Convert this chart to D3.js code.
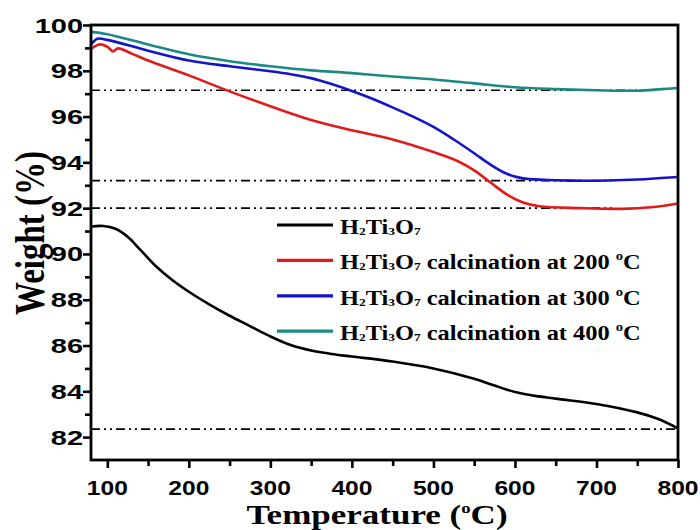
<!DOCTYPE html>
<html>
<head>
<meta charset="utf-8">
<script src="https://cdn.jsdelivr.net/npm/d3@7"></script>
<style>
  body { margin: 0; background: #fff; }
  svg { display: block; }
</style>
</head>
<body>
<svg id="chart" width="700" height="530"></svg>
<script>
// temperature (C) / weight (%)
var tRaw = [80, 95, 110, 125, 140, 160, 180, 200, 225, 250, 275, 300, 325, 350, 375, 400, 450, 500, 550, 575, 600, 625, 650, 700, 750, 775, 800];
var wRaw = [91.2, 91.22, 91.1, 90.75, 90.2, 89.45, 88.85, 88.35, 87.8, 87.3, 86.85, 86.4, 86.02, 85.78, 85.63, 85.52, 85.3, 85.0, 84.55, 84.25, 83.97, 83.8, 83.68, 83.45, 83.08, 82.8, 82.38];

var t200 = [80, 90, 100, 107, 113, 130, 150, 200, 250, 300, 350, 400, 450, 500, 530, 550, 570, 590, 610, 630, 680, 730, 770, 800];
var w200 = [98.95, 99.15, 99.05, 98.85, 98.98, 98.75, 98.45, 97.8, 97.1, 96.45, 95.85, 95.4, 95.0, 94.45, 94.05, 93.65, 93.12, 92.6, 92.25, 92.08, 92.0, 91.97, 92.05, 92.2];

var t300 = [80, 88, 100, 150, 200, 250, 300, 325, 350, 375, 400, 425, 450, 475, 500, 525, 550, 570, 590, 610, 650, 700, 750, 800];
var w300 = [99.15, 99.4, 99.35, 98.88, 98.45, 98.2, 97.98, 97.85, 97.68, 97.42, 97.12, 96.78, 96.4, 96.0, 95.55, 95.0, 94.4, 93.9, 93.5, 93.3, 93.22, 93.2, 93.25, 93.36];

var t400 = [80, 100, 150, 200, 250, 300, 350, 400, 450, 500, 550, 600, 650, 700, 750, 780, 800];
var w400 = [99.7, 99.6, 99.15, 98.72, 98.42, 98.2, 98.02, 97.9, 97.75, 97.62, 97.45, 97.28, 97.2, 97.15, 97.13, 97.2, 97.25];

// dash-dot reference levels and where they stop
var refLevels = [97.15, 93.2, 92.0, 82.35];
var refEnds = [770, 720, 720, 800];

var xTicks = [100, 200, 300, 400, 500, 600, 700, 800];
var yTicks = [82, 84, 86, 88, 90, 92, 94, 96, 98, 100];

var names = ["", " calcination at 200 ", " calcination at 300 ", " calcination at 400 "];
var colors = ["#000000", "#e01b1b", "#1414c8", "#1a8a86"];

var series = [
  { t: tRaw, w: wRaw },
  { t: t200, w: w200 },
  { t: t300, w: w300 },
  { t: t400, w: w400 }
];

var pL = 91, pT = 25, pR = 678, pB = 460;

var svg = d3.select("#chart");

var x = d3.scaleLinear().domain([80, 800]).range([pL, pR]);
var y = d3.scaleLinear().domain([81, 100]).range([pB, pT]);

// reference lines
svg.selectAll(".ref")
    .data(refLevels)
  .enter().append("line")
    .attr("class", "ref")
    .attr("x1", x(80))
    .attr("x2", function(d, i) { return x(refEnds[i]); })
    .attr("y1", function(d) { return y(d); })
    .attr("y2", function(d) { return y(d); })
    .attr("stroke", "#000")
    .attr("stroke-width", 1.7)
    .attr("stroke-dasharray", "9,4,2,4,2,4");

// curves
var line = d3.line()
    .x(function(d) { return x(d[0]); })
    .y(function(d) { return y(d[1]); })
    .curve(d3.curveCatmullRom.alpha(0.5));

series.forEach(function(s, i) {
  svg.append("path")
    .datum(d3.zip(s.t, s.w))
    .attr("d", line)
    .attr("fill", "none")
    .attr("stroke", colors[i])
    .attr("stroke-width", 2.6);
});

// frame
svg.append("rect")
    .attr("x", pL).attr("y", pT)
    .attr("width", pR - pL).attr("height", pB - pT)
    .attr("fill", "none")
    .attr("stroke", "#000")
    .attr("stroke-width", 2.8);

// bottom axis
var gx = svg.append("g").attr("transform", "translate(0," + pB + ")")
    .call(d3.axisBottom(x).tickValues(xTicks).tickSize(8).tickFormat(""));
var gxm = svg.append("g").attr("transform", "translate(0," + pB + ")")
    .call(d3.axisBottom(x).tickValues(d3.range(150, 800, 100)).tickSize(6).tickFormat(""));

// left axis
var gy = svg.append("g").attr("transform", "translate(" + pL + ",0)")
    .call(d3.axisLeft(y).tickValues(yTicks).tickSize(8).tickFormat(""));
var gym = svg.append("g").attr("transform", "translate(" + pL + ",0)")
    .call(d3.axisLeft(y).tickValues(d3.range(83, 100, 2)).tickSize(6).tickFormat(""));

[gx, gxm, gy, gym].forEach(function(g) {
  g.select(".domain").remove();
  g.selectAll(".tick line").attr("stroke", "#000").attr("stroke-width", 2.6);
});

// tick labels (the original is stretched sideways)
svg.selectAll(".xl")
    .data(xTicks)
  .enter().append("g")
    .attr("class", "xl")
    .attr("transform", function(d) { return "translate(" + x(d) + "," + 495 + ") scale(1.17,1)"; })
  .append("text")
    .attr("text-anchor", "middle")
    .style("font", "bold 21px 'Liberation Sans', Arial, sans-serif")
    .text(function(d) { return d; });

svg.selectAll(".yl")
    .data(yTicks)
  .enter().append("g")
    .attr("class", "yl")
    .attr("transform", function(d) { return "translate(" + 83 + "," + (y(d) + 7.5) + ") scale(1.38,1)"; })
  .append("text")
    .attr("text-anchor", "end")
    .style("font", "bold 21px 'Liberation Sans', Arial, sans-serif")
    .text(function(d) { return d; });

// axis titles
var serif = "'Liberation Serif', 'Times New Roman', serif";

var xt = svg.append("g")
    .attr("transform", "translate(377,524) scale(1.25,1)")
  .append("text")
    .attr("text-anchor", "middle")
    .style("font-family", serif)
    .style("font-weight", "bold")
    .style("font-size", "28px");
xt.append("tspan").text("Temperature (");
xt.append("tspan").attr("dy", -11).style("font-size", "15px").text("o");
xt.append("tspan").attr("dy", 11).text("C)");

svg.append("g")
    .attr("transform", "translate(44,233) rotate(-90) scale(1,1.3)")
  .append("text")
    .attr("text-anchor", "middle")
    .style("font-family", serif)
    .style("font-weight", "bold")
    .style("font-size", "33px")
    .text("Weight (%)");

// legend
var lx1 = 277, lx2 = 333, ly0 = 225, lstep = 35.4;

var leg = svg.selectAll(".leg")
    .data(names)
  .enter().append("g")
    .attr("class", "leg")
    .attr("transform", function(d, i) { return "translate(0," + (ly0 + i * lstep) + ")"; });

leg.append("line")
    .attr("x1", lx1).attr("x2", lx2)
    .attr("stroke", function(d, i) { return colors[i]; })
    .attr("stroke-width", 3.2);

var lt = leg.append("g")
    .attr("transform", "translate(340,9) scale(1.22,1)")
  .append("text")
    .style("font-family", serif)
    .style("font-weight", "bold")
    .style("font-size", "20px");

lt.each(function(d) {
  var t = d3.select(this);
  t.append("tspan").text("H");
  t.append("tspan").attr("dy", 1).style("font-size", "11px").text("2");
  t.append("tspan").attr("dy", -1).text("Ti");
  t.append("tspan").attr("dy", 1).style("font-size", "11px").text("3");
  t.append("tspan").attr("dy", -1).text("O");
  t.append("tspan").attr("dy", 1).style("font-size", "11px").text("7");
  if (d) {
    t.append("tspan").attr("dy", -1).text(d);
    t.append("tspan").attr("dy", -9).style("font-size", "12px").text("o");
    t.append("tspan").attr("dy", 9).text("C");
  }
});
</script>
</body>
</html>
